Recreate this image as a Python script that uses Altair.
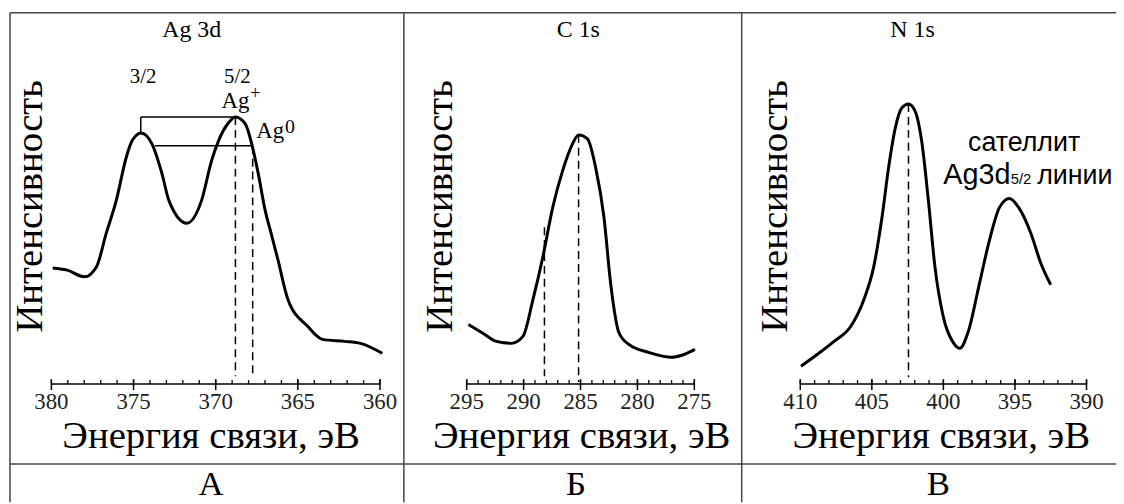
import altair as alt
import pandas as pd

# ---------------- data ----------------
# Panel A : Ag 3d  (binding energy, eV  /  intensity, arb. units)
a_energy = [379.92, 379.08, 377.99, 377.26, 376.66, 376.05, 375.45, 375.09, 374.54, 373.88,
            373.27, 372.85, 371.76, 370.86, 370.25, 369.83, 369.23, 368.80, 368.20, 367.78,
            367.41, 366.99, 366.63, 366.21, 365.60, 364.39, 363.49, 362.16, 361.19, 359.86]
a_intensity = [117, 115, 108, 118, 152, 185, 228, 245, 253, 242,
               212, 185, 162, 185, 225, 245, 263, 269, 262, 240,
               212, 175, 152, 125, 85, 58, 45, 43, 41, 31]

# Panel B : C 1s
b_energy = [294.85, 293.54, 292.38, 291.08, 290.06, 289.18, 288.31, 287.44, 286.57, 285.70,
            285.17, 284.39, 283.67, 282.94, 282.36, 281.63, 280.76, 279.02, 276.98, 276.11, 274.95]
b_intensity = [60, 51, 43, 41, 48, 85, 128, 178, 215, 242,
               251, 247, 218, 168, 102, 52, 40, 32, 27, 29, 35]

# Panel C : N 1s
c_energy = [409.95, 408.80, 407.64, 406.48, 405.56, 404.87, 404.29, 403.83, 403.36, 402.91,
            402.44, 401.98, 401.52, 401.05, 400.59, 400.01, 399.32, 398.85, 398.28, 397.47,
            396.78, 396.08, 395.39, 394.70, 393.89, 393.20, 392.50]
c_intensity = [18, 30, 43, 58, 85, 118, 168, 218, 258, 278,
               282, 275, 245, 185, 118, 68, 42, 36, 52, 102,
               145, 178, 187, 177, 152, 122, 100]

# axis ticks (labelled) for each panel
a_ticks = [380, 375, 370, 365, 360]
b_ticks = [295, 290, 285, 280, 275]
c_ticks = [410, 405, 400, 395, 390]

# dashed marker lines (energy, top intensity, bottom intensity)
a_dash_energy = [368.80, 367.75]
a_dash_top = [269, 240]
a_dash_bottom = [8, 8]
b_dash_energy = [285.17, 288.17]
b_dash_top = [251, 158]
b_dash_bottom = [2, 8]
c_dash_energy = [402.44]
c_dash_top = [282]
c_dash_bottom = [7]

# spin-orbit bracket in panel A
a_bracket_e1 = [374.56, 374.56, 373.70]
a_bracket_e2 = [368.80, 374.56, 367.76]
a_bracket_i1 = [269, 269, 240]
a_bracket_i2 = [269, 253, 240]

panel_titles = ["Ag 3d", "C 1s", "N 1s"]
panel_letters = ["А", "Б", "В"]
y_title = "Интенсивность"
x_title = "Энергия связи, эВ"

# ---------------- layout ----------------
W, H = 1116, 496
AXIS_ROW = 377
SERIF = "Liberation Serif"
SANS = "Liberation Sans"
INK = "#000000"
GRID = "#444444"

Y = alt.Scale(domain=[AXIS_ROW - H, AXIS_ROW], nice=False, zero=False)


def make_scale(e_left, px_left, e_right, px_right):
    k = (px_right - px_left) / (e_left - e_right)
    hi = e_left + px_left / k
    lo = e_right - (W - px_right) / k
    return alt.Scale(domain=[lo, hi], reverse=True, nice=False, zero=False)


def label(xs, e, i, text, size, font=SERIF, align="center", baseline="middle", angle=0):
    df = pd.DataFrame({"e": [e], "i": [i], "t": [text]})
    return alt.Chart(df).mark_text(
        font=font, fontSize=size, align=align, baseline=baseline, angle=angle, color=INK
    ).encode(
        x=alt.X("e:Q", scale=xs, axis=None),
        y=alt.Y("i:Q", scale=Y, axis=None),
        text="t:N",
    )


def panel(xs, energy, intensity, ticks, d_e, d_top, d_bot, extra):
    X = lambda f: alt.X(f, type="quantitative", scale=xs, axis=None)
    YY = lambda f: alt.Y(f, type="quantitative", scale=Y, axis=None)
    curve = alt.Chart(pd.DataFrame({"e": energy, "i": intensity})).mark_line(
        color=INK, strokeWidth=3, interpolate="monotone"
    ).encode(x=X("e"), y=YY("i"))
    dashes = alt.Chart(pd.DataFrame({"e": d_e, "i": d_top, "i2": d_bot})).mark_rule(
        color=INK, strokeWidth=1.5, strokeDash=[8, 5]
    ).encode(x=X("e"), y=YY("i"), y2=alt.Y2("i2"))
    lo, hi = min(ticks), max(ticks)
    axis_line = alt.Chart(pd.DataFrame({"e": [hi], "e2": [lo], "i": [0]})).mark_rule(
        color=INK, strokeWidth=1.5
    ).encode(x=X("e"), x2=alt.X2("e2"), y=YY("i"))
    minor = list(range(lo, hi + 1))
    minor_ticks = alt.Chart(pd.DataFrame({"e": minor, "i": [4] * len(minor), "i2": [0] * len(minor)})).mark_rule(
        color=INK, strokeWidth=1.3
    ).encode(x=X("e"), y=YY("i"), y2=alt.Y2("i2"))
    major_ticks = alt.Chart(pd.DataFrame({"e": ticks, "i": [5] * len(ticks), "i2": [-6] * len(ticks)})).mark_rule(
        color=INK, strokeWidth=1.5
    ).encode(x=X("e"), y=YY("i"), y2=alt.Y2("i2"))
    tick_labels = alt.Chart(pd.DataFrame({"e": ticks, "i": [-18] * len(ticks), "t": [str(t) for t in ticks]})).mark_text(
        font=SERIF, fontSize=23, baseline="middle", align="center", color="#222222"
    ).encode(x=X("e"), y=YY("i"), text="t:N")
    layers = [curve, dashes, axis_line, minor_ticks, major_ticks, tick_labels]
    for args in extra:
        layers.append(label(xs, **args))
    return alt.layer(*layers)


xa = make_scale(380, 43.7, 360, 374.7)
xb = make_scale(295, 462.0, 275, 691.3)
xc = make_scale(410, 798.0, 390, 1086.3)

extra_a = [
    dict(e=371.46, i=357, text=panel_titles[0], size=24),
    dict(e=374.42, i=309.5, text="3/2", size=21),
    dict(e=368.68, i=309.5, text="5/2", size=21),
    dict(e=369.65, i=278, text="Ag", size=23, align="left", baseline="alphabetic"),
    dict(e=367.90, i=287, text="+", size=18, align="left", baseline="alphabetic"),
    dict(e=367.53, i=248, text="Ag", size=23, align="left", baseline="alphabetic"),
    dict(e=365.78, i=253, text="0", size=20, align="left", baseline="alphabetic"),
    dict(e=380.59, i=179, text=y_title, size=39, baseline="alphabetic", angle=270),
    dict(e=370.28, i=-64, text=x_title, size=39, baseline="alphabetic"),
    dict(e=370.28, i=-112, text=panel_letters[0], size=35, baseline="alphabetic"),
]
extra_b = [
    dict(e=285.19, i=357, text=panel_titles[1], size=24),
    dict(e=296.31, i=179, text=y_title, size=39, baseline="alphabetic", angle=270),
    dict(e=284.90, i=-64, text=x_title, size=39, baseline="alphabetic"),
    dict(e=285.41, i=-112, text=panel_letters[1], size=35, baseline="alphabetic"),
]
extra_c = [
    dict(e=402.16, i=357, text=panel_titles[2], size=24),
    dict(e=410.90, i=179, text=y_title, size=39, baseline="alphabetic", angle=270),
    dict(e=400.15, i=-64, text=x_title, size=39, baseline="alphabetic"),
    dict(e=400.36, i=-112, text=panel_letters[2], size=35, baseline="alphabetic"),
    dict(e=394.36, i=235, text="сателлит", size=27, font=SANS, baseline="alphabetic"),
    dict(e=400.01, i=202, text="Ag3d", size=29, font=SANS, align="left", baseline="alphabetic"),
    dict(e=395.30, i=202, text="5/2", size=15, font=SANS, align="left", baseline="alphabetic"),
    dict(e=393.45, i=202, text="линии", size=27, font=SANS, align="left", baseline="alphabetic"),
]

pa = panel(xa, a_energy, a_intensity, a_ticks, a_dash_energy, a_dash_top, a_dash_bottom, extra_a)
pb = panel(xb, b_energy, b_intensity, b_ticks, b_dash_energy, b_dash_top, b_dash_bottom, extra_b)
pc = panel(xc, c_energy, c_intensity, c_ticks, c_dash_energy, c_dash_top, c_dash_bottom, extra_c)

# bracket lines of panel A
bracket = alt.Chart(pd.DataFrame({"e": a_bracket_e1, "e2": a_bracket_e2, "i": a_bracket_i1, "i2": a_bracket_i2})).mark_rule(
    color=INK, strokeWidth=1.5
).encode(
    x=alt.X("e:Q", scale=xa, axis=None), x2="e2:Q",
    y=alt.Y("i:Q", scale=Y, axis=None), y2="i2:Q",
)
pa = alt.layer(pa, bracket)

# table frame
one = pd.DataFrame({"k": [0]})
frame = [
    alt.Chart(one).mark_rule(color=GRID, strokeWidth=1.5).encode(x=alt.value(2), x2=alt.value(W), y=alt.value(3)),
    alt.Chart(one).mark_rule(color=GRID, strokeWidth=1.5).encode(x=alt.value(2), x2=alt.value(W), y=alt.value(457.5)),
    alt.Chart(one).mark_rule(color=GRID, strokeWidth=1.5).encode(x=alt.value(2), y=alt.value(3), y2=alt.value(H)),
    alt.Chart(one).mark_rule(color=GRID, strokeWidth=1.5).encode(x=alt.value(398.7), y=alt.value(3), y2=alt.value(H)),
    alt.Chart(one).mark_rule(color=GRID, strokeWidth=1.5).encode(x=alt.value(739), y=alt.value(3), y2=alt.value(H)),
]

chart = alt.layer(*frame, pa, pb, pc).resolve_scale(x="independent").properties(
    width=W, height=H, padding=0, autosize=alt.AutoSizeParams(type="none"),
    background="white",
).configure_view(stroke=None)

chart.save("out.html", embed_options={"renderer": "svg", "actions": False})
